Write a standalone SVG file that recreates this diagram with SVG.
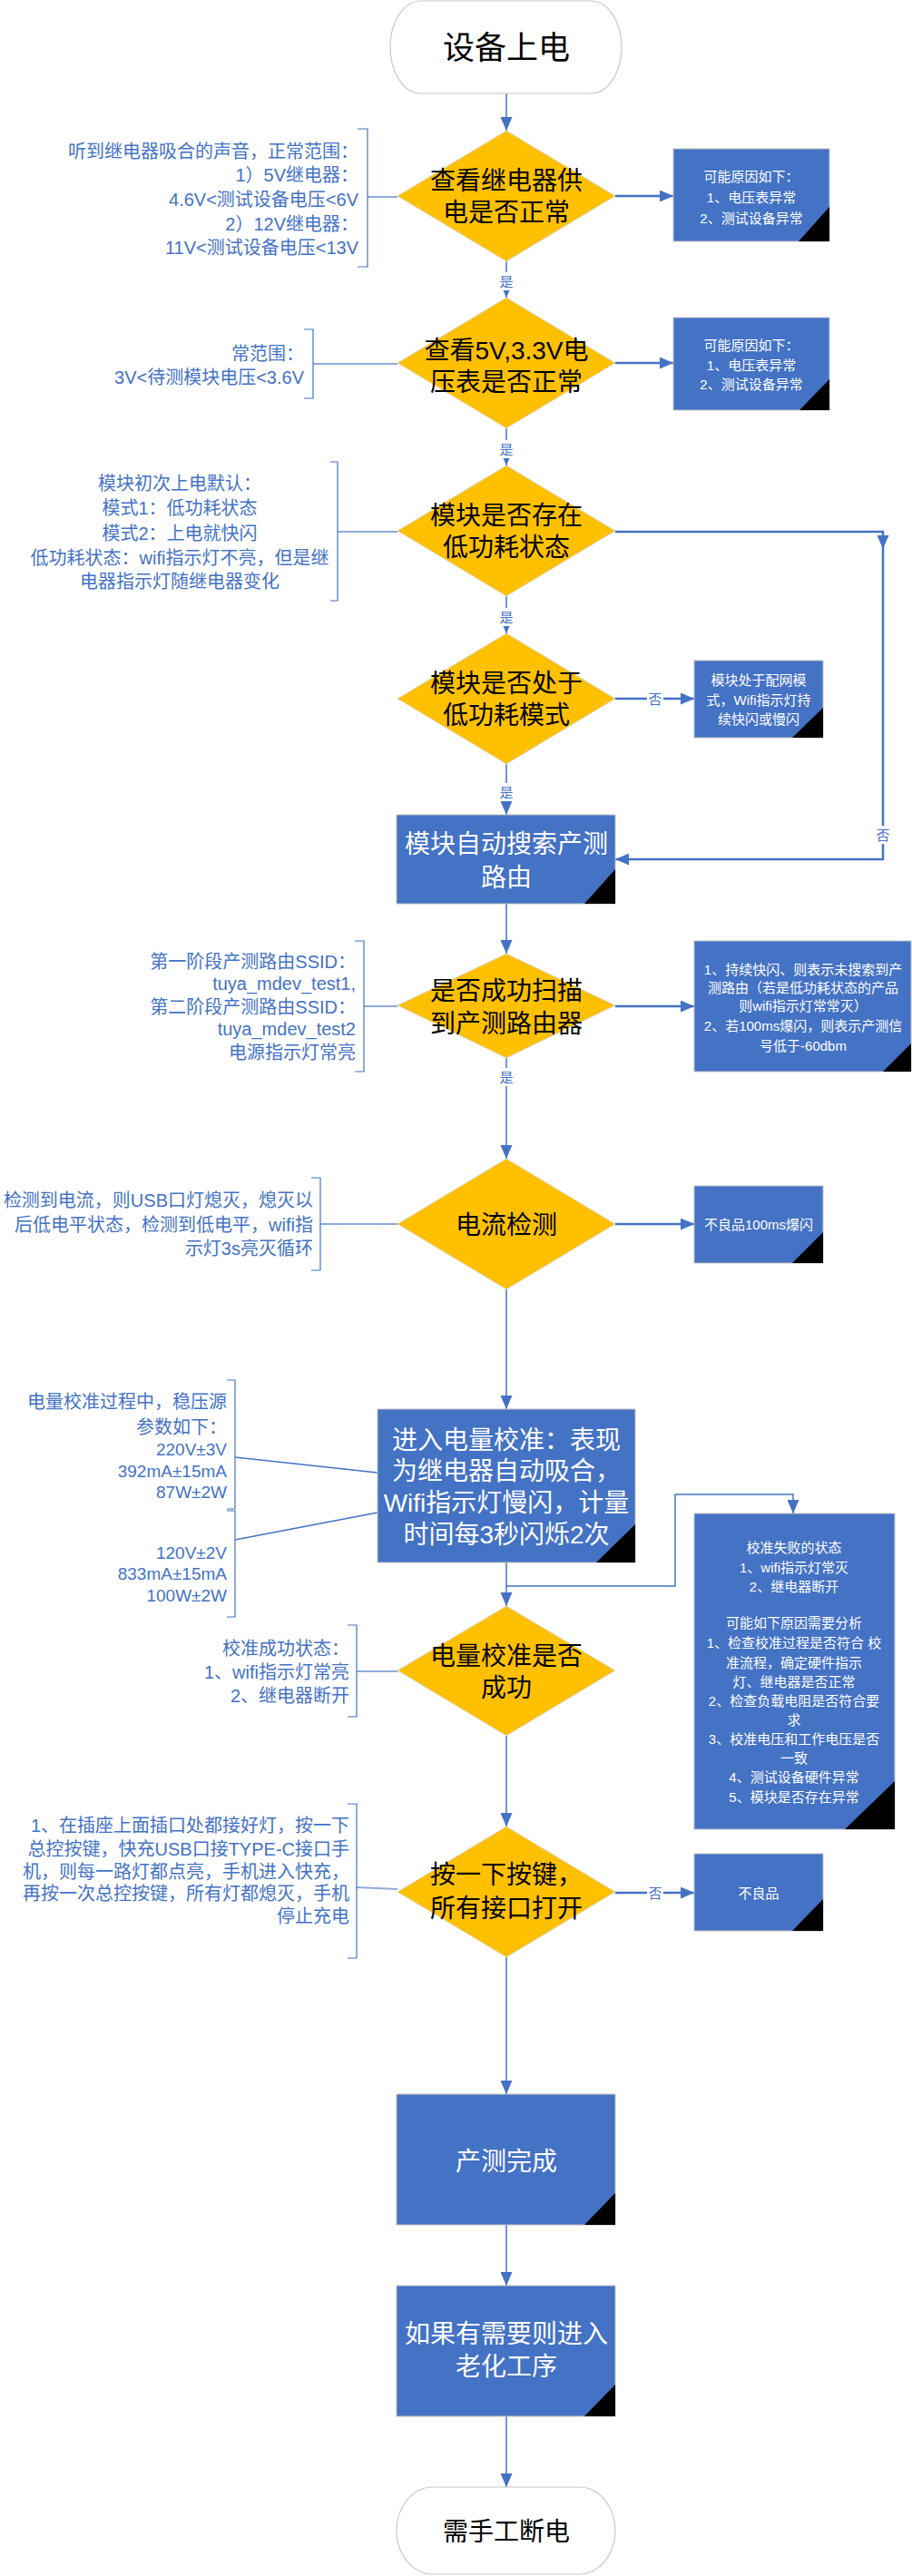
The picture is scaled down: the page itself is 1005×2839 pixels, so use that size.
<svg xmlns="http://www.w3.org/2000/svg" width="1005" height="2839" viewBox="0 0 1005 2839">
<defs>
<marker id="arr" markerUnits="userSpaceOnUse" markerWidth="15" markerHeight="13" refX="15" refY="6.5" orient="auto">
<path d="M0,0 L15,6.5 L0,13 Z" fill="#4472c4"/>
</marker>
<style>
text{font-family:"Liberation Sans","Noto Sans CJK SC",sans-serif;dominant-baseline:central}
.flow{stroke:#4472c4;stroke-width:1.5;fill:none}
.flowB{stroke:#4472c4;stroke-width:2.5;fill:none}
.link{stroke:#8faadc;stroke-width:2;fill:none}
.link2{stroke:#4472c4;stroke-width:1.3;fill:none}
.bracket{stroke:#4472c4;stroke-width:1.2;fill:none}
.dia{fill:#ffc000;stroke:#d9d9d9;stroke-width:1}
.box{fill:#4472c4;stroke:#bfbfbf;stroke-width:1}
.term{fill:#fff;stroke:#c8c8c8;stroke-width:1.2}
.corner{fill:#000}
.dt{font-size:28px;fill:#000;text-anchor:middle}
.bt{font-size:28px;fill:#fff;text-anchor:middle}
.st{font-size:15px;fill:#fff;text-anchor:middle}
.ann{font-size:20px;fill:#4472c4;text-anchor:end}
.num{font-size:19px}
.annc{font-size:20px;fill:#4472c4;text-anchor:middle}
.lbl{font-size:15px;fill:#4472c4;text-anchor:middle}
</style>
</defs>

<g id="connectors">
<path class="flow" d="M558,103 V144" marker-end="url(#arr)"/>
<path class="flow" d="M558,288 V328" marker-end="url(#arr)"/>
<path class="flow" d="M558,472 V513" marker-end="url(#arr)"/>
<path class="flow" d="M558,657 V698" marker-end="url(#arr)"/>
<path class="flow" d="M558,842 V898" marker-end="url(#arr)"/>
<path class="flow" d="M558,996 V1051" marker-end="url(#arr)"/>
<path class="flow" d="M558,1166 V1277" marker-end="url(#arr)"/>
<path class="flow" d="M558,1421 V1553" marker-end="url(#arr)"/>
<path class="flow" d="M558,1722 V1770" marker-end="url(#arr)"/>
<path class="flow" d="M558,1748 H744 V1647 H874 V1668" stroke-width="2" marker-end="url(#arr)"/>
<path class="flow" d="M558,1913 V2013" marker-end="url(#arr)"/>
<path class="flow" d="M558,2157 V2308" marker-end="url(#arr)"/>
<path class="flow" d="M558,2452 V2519" marker-end="url(#arr)"/>
<path class="flow" d="M558,2663 V2741" marker-end="url(#arr)"/>
<path class="flowB" d="M678,216 H742" marker-end="url(#arr)"/>
<path class="flowB" d="M678,400 H742" marker-end="url(#arr)"/>
<path class="flowB" d="M678,586 H973 V947 H678" marker-end="url(#arr)"/>
<path d="M966.5,590 L979.5,590 L973,605 Z" fill="#4472c4"/>
<path class="flowB" d="M678,770 H765" marker-end="url(#arr)"/>
<path class="flowB" d="M678,1109 H765" marker-end="url(#arr)"/>
<path class="flowB" d="M678,1349 H765" marker-end="url(#arr)"/>
<path class="flowB" d="M678,2086 H765" marker-end="url(#arr)"/>
<g>
<rect x="549" y="300" width="18" height="20" fill="#fff"/><text class="lbl" x="558" y="310">是</text>
<rect x="549" y="485" width="18" height="20" fill="#fff"/><text class="lbl" x="558" y="495">是</text>
<rect x="549" y="670" width="18" height="20" fill="#fff"/><text class="lbl" x="558" y="680">是</text>
<rect x="549" y="863" width="18" height="20" fill="#fff"/><text class="lbl" x="558" y="873">是</text>
<rect x="549" y="1177" width="18" height="20" fill="#fff"/><text class="lbl" x="558" y="1187">是</text>
<rect x="713" y="760" width="18" height="20" fill="#fff"/><text class="lbl" x="722" y="770">否</text>
<rect x="964" y="910" width="18" height="20" fill="#fff"/><text class="lbl" x="973" y="920">否</text>
<rect x="713" y="2076" width="18" height="20" fill="#fff"/><text class="lbl" x="722" y="2086">否</text>
</g>
<path class="link" d="M405,217 H438"/>
<path class="link" d="M345,401 H438"/>
<path class="link" d="M372,586 H438"/>
<path class="link" d="M401,1109 H438"/>
<path class="link" d="M353,1349 H440"/>
<path class="link2" d="M259,1606 L416,1623"/>
<path class="link2" d="M259,1697 L416,1667"/>
<path class="link" d="M393,1842 H438"/>
<path class="link" d="M393,2080 L438,2082"/>
</g>

<g id="start">
<path class="term" d="M464,1 H651 A34,51 0 0 1 651,103 H464 A34,51 0 0 1 464,1 Z"/>
<text x="558" y="52" font-size="35" fill="#000" text-anchor="middle">设备上电</text>
</g>

<g id="d1">
<polygon class="dia" points="558,144 678,216 558,288 438,216"/>
<text class="dt" x="558" y="199">查看继电器供</text>
<text class="dt" x="558" y="234">电是否正常</text>
</g>
<g id="a1">
<path class="bracket" d="M394,142 H405 V294 H394"/>
<text class="ann" x="395" y="167">听到继电器吸合的声音，正常范围：</text>
<text class="ann" x="395" y="193">1）5V继电器：</text>
<text class="ann" x="395" y="220">4.6V&lt;测试设备电压&lt;6V</text>
<text class="ann" x="395" y="247">2）12V继电器：</text>
<text class="ann" x="395" y="273">11V&lt;测试设备电压&lt;13V</text>
</g>
<g id="r1">
<rect class="box" x="742" y="164" width="172" height="102"/>
<polygon class="corner" points="914,228 914,266 880,266"/>
<text class="st" x="828" y="194">可能原因如下：</text>
<text class="st" x="828" y="217">1、电压表异常</text>
<text class="st" x="828" y="240">2、测试设备异常</text>
</g>

<g id="d2">
<polygon class="dia" points="558,328 678,400 558,472 438,400"/>
<text class="dt" x="558" y="386">查看5V,3.3V电</text>
<text class="dt" x="558" y="421">压表是否正常</text>
</g>
<g id="a2">
<path class="bracket" d="M335,363 H345 V439 H335"/>
<text class="ann" x="335" y="390">常范围：</text>
<text class="ann" x="335" y="416">3V&lt;待测模块电压&lt;3.6V</text>
</g>
<g id="r2">
<rect class="box" x="742" y="350" width="172" height="102"/>
<polygon class="corner" points="914,418 914,452 881,452"/>
<text class="st" x="828" y="380">可能原因如下：</text>
<text class="st" x="828" y="402">1、电压表异常</text>
<text class="st" x="828" y="423">2、测试设备异常</text>
</g>

<g id="d3">
<polygon class="dia" points="558,513 678,585 558,657 438,585"/>
<text class="dt" x="558" y="568">模块是否存在</text>
<text class="dt" x="558" y="603">低功耗状态</text>
</g>
<g id="a3">
<path class="bracket" d="M364,509 H372 V662 H364"/>
<text class="annc" x="198" y="533">模块初次上电默认：</text>
<text class="annc" x="198" y="560">模式1：低功耗状态</text>
<text class="annc" x="198" y="588">模式2：上电就快闪</text>
<text class="annc" x="198" y="615">低功耗状态：wifi指示灯不亮，但是继</text>
<text class="annc" x="198" y="641">电器指示灯随继电器变化</text>
</g>

<g id="d4">
<polygon class="dia" points="558,698 678,770 558,842 438,770"/>
<text class="dt" x="558" y="753">模块是否处于</text>
<text class="dt" x="558" y="788">低功耗模式</text>
</g>
<g id="r4">
<rect class="box" x="765" y="728" width="142" height="85"/>
<polygon class="corner" points="907,780 907,813 873,813"/>
<text class="st" font-size="16" x="836" y="749">模块处于配网模</text>
<text class="st" font-size="16" x="836" y="771">式，Wifi指示灯持</text>
<text class="st" font-size="16" x="836" y="792">续快闪或慢闪</text>
</g>

<g id="m1">
<rect class="box" x="437" y="898" width="241" height="98"/>
<polygon class="corner" points="678,958 678,996 644,996"/>
<text class="bt" x="558" y="930">模块自动搜索产测</text>
<text class="bt" x="558" y="967">路由</text>
</g>

<g id="d5">
<polygon class="dia" points="558,1051 678,1108 558,1166 438,1108"/>
<text class="dt" x="558" y="1092">是否成功扫描</text>
<text class="dt" x="558" y="1128">到产测路由器</text>
</g>
<g id="a5">
<path class="bracket" d="M391,1037 H401 V1181 H391"/>
<text class="ann" x="392" y="1060">第一阶段产测路由SSID：</text>
<text class="ann" x="392" y="1084">tuya_mdev_test1,</text>
<text class="ann" x="392" y="1110">第二阶段产测路由SSID：</text>
<text class="ann" x="392" y="1134">tuya_mdev_test2</text>
<text class="ann" x="392" y="1160">电源指示灯常亮</text>
</g>
<g id="r5">
<rect class="box" x="765" y="1037" width="239" height="144"/>
<polygon class="corner" points="1004,1150 1004,1181 973,1181"/>
<text class="st" x="885" y="1068">1、持续快闪、则表示未搜索到产</text>
<text class="st" x="885" y="1088">测路由（若是低功耗状态的产品</text>
<text class="st" x="885" y="1108">则wifi指示灯常常灭）</text>
<text class="st" x="885" y="1130">2、若100ms爆闪，则表示产测信</text>
<text class="st" x="885" y="1152">号低于-60dbm</text>
</g>

<g id="d6">
<polygon class="dia" points="558,1277 678,1349 558,1421 438,1349"/>
<text class="dt" x="558" y="1350">电流检测</text>
</g>
<g id="a6">
<path class="bracket" d="M343,1298 H353 V1400 H343"/>
<text class="ann" x="345" y="1323">检测到电流，则USB口灯熄灭，熄灭以</text>
<text class="ann" x="345" y="1350">后低电平状态，检测到低电平，wifi指</text>
<text class="ann" x="345" y="1376">示灯3s亮灭循环</text>
</g>
<g id="r6">
<rect class="box" x="765" y="1307" width="142" height="85"/>
<polygon class="corner" points="907,1358 907,1392 873,1392"/>
<text class="st" font-size="16" x="836" y="1349">不良品100ms爆闪</text>
</g>

<g id="m7">
<rect class="box" x="416" y="1553" width="284" height="169"/>
<polygon class="corner" points="700,1680 700,1722 657,1722"/>
<text class="bt" x="558" y="1587">进入电量校准：表现</text>
<text class="bt" x="558" y="1621">为继电器自动吸合，</text>
<text class="bt" x="558" y="1656">Wifi指示灯慢闪，计量</text>
<text class="bt" x="558" y="1691">时间每3秒闪烁2次</text>
</g>
<g id="a7">
<path class="bracket" d="M250,1521 H259 V1663 H250"/>
<path class="bracket" d="M250,1665 H259 V1782 H250"/>
<text class="ann" x="250" y="1545">电量校准过程中，稳压源</text>
<text class="ann" x="250" y="1573">参数如下：</text>
<text class="ann num" x="250" y="1597">220V±3V</text>
<text class="ann num" x="250" y="1621">392mA±15mA</text>
<text class="ann num" x="250" y="1644">87W±2W</text>
<text class="ann num" x="250" y="1711">120V±2V</text>
<text class="ann num" x="250" y="1734">833mA±15mA</text>
<text class="ann num" x="250" y="1758">100W±2W</text>
</g>

<g id="r8">
<rect class="box" x="765" y="1668" width="221" height="348"/>
<polygon class="corner" points="986,1963 986,2016 931,2016"/>
<text class="st" x="875" y="1705">校准失败的状态</text>
<text class="st" x="875" y="1727">1、wifi指示灯常灭</text>
<text class="st" x="875" y="1748">2、继电器断开</text>
<text class="st" x="875" y="1788">可能如下原因需要分析</text>
<text class="st" x="875" y="1810">1、检查校准过程是否符合 校</text>
<text class="st" x="875" y="1832">准流程，确定硬件指示</text>
<text class="st" x="875" y="1853">灯、继电器是否正常</text>
<text class="st" x="875" y="1874">2、检查负载电阻是否符合要</text>
<text class="st" x="875" y="1895">求</text>
<text class="st" x="875" y="1916">3、校准电压和工作电压是否</text>
<text class="st" x="875" y="1937">一致</text>
<text class="st" x="875" y="1958">4、测试设备硬件异常</text>
<text class="st" x="875" y="1980">5、模块是否存在异常</text>
</g>

<g id="d7">
<polygon class="dia" points="558,1770 678,1841 558,1913 438,1841"/>
<text class="dt" x="558" y="1825">电量校准是否</text>
<text class="dt" x="558" y="1860">成功</text>
</g>
<g id="a8">
<path class="bracket" d="M383,1791 H393 V1892 H383"/>
<text class="ann" x="385" y="1817">校准成功状态：</text>
<text class="ann" x="385" y="1843">1、wifi指示灯常亮</text>
<text class="ann" x="385" y="1869">2、继电器断开</text>
</g>

<g id="d8">
<polygon class="dia" points="558,2013 678,2085 558,2157 438,2085"/>
<text class="dt" x="558" y="2066">按一下按键，</text>
<text class="dt" x="558" y="2103">所有接口打开</text>
</g>
<g id="a9">
<path class="bracket" d="M383,1988 H393 V2158 H383"/>
<text class="ann" x="385" y="2012">1、在插座上面插口处都接好灯，按一下</text>
<text class="ann" x="385" y="2038">总控按键，快充USB口接TYPE-C接口手</text>
<text class="ann" x="385" y="2063">机，则每一路灯都点亮，手机进入快充，</text>
<text class="ann" x="385" y="2087">再按一次总控按键，所有灯都熄灭，手机</text>
<text class="ann" x="385" y="2112">停止充电</text>
</g>
<g id="r9">
<rect class="box" x="765" y="2043" width="142" height="85"/>
<polygon class="corner" points="907,2093 907,2128 873,2128"/>
<text class="st" font-size="16" x="836" y="2086">不良品</text>
</g>

<g id="m10">
<rect class="box" x="437" y="2308" width="241" height="144"/>
<polygon class="corner" points="678,2417 678,2452 644,2452"/>
<text class="bt" font-size="27" x="558" y="2382">产测完成</text>
</g>
<g id="m11">
<rect class="box" x="437" y="2519" width="241" height="144"/>
<polygon class="corner" points="678,2628 678,2663 644,2663"/>
<text class="bt" x="558" y="2572">如果有需要则进入</text>
<text class="bt" x="558" y="2608">老化工序</text>
</g>

<g id="end">
<path class="term" d="M477,2741 H638 A40,48 0 0 1 638,2837 H477 A40,48 0 0 1 477,2741 Z"/>
<text x="558" y="2790" font-size="28" fill="#000" text-anchor="middle">需手工断电</text>
</g>
</svg>
